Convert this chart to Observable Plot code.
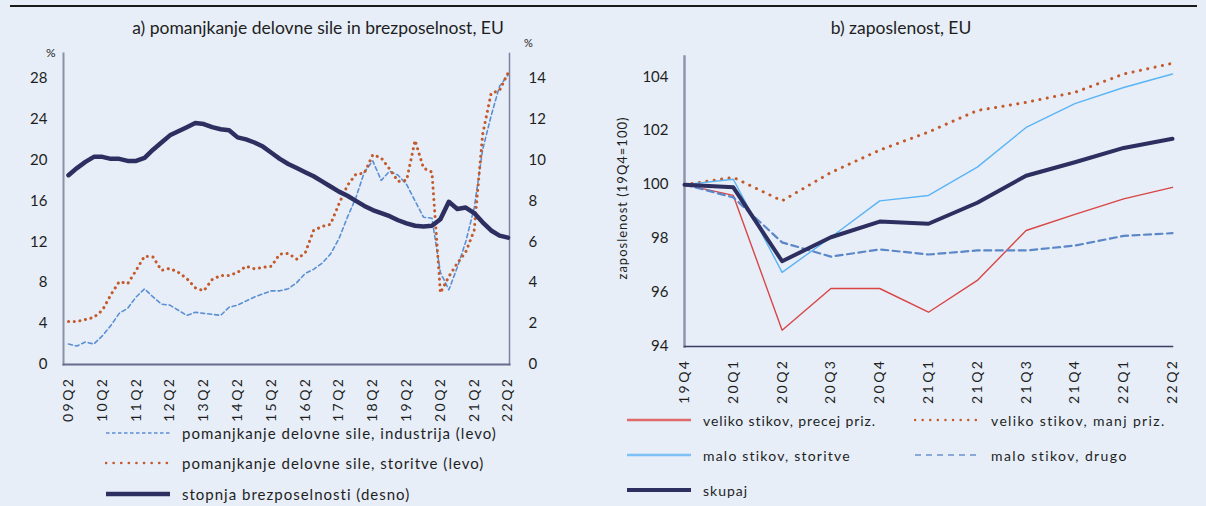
<!DOCTYPE html>
<html><head><meta charset="utf-8">
<script src="https://cdn.jsdelivr.net/npm/d3@7"></script>
<script src="https://cdn.jsdelivr.net/npm/@observablehq/plot@0.6"></script>
<style>
html,body{margin:0;padding:0;background:#e7eef8;}
#root{position:relative;width:1206px;height:506px;background:#e7eef8;font-family:Lato,"Open Sans",sans-serif;color:#1e1e1e;overflow:hidden;}
.abs{position:absolute;white-space:nowrap;}
.leg{display:flex;align-items:center;height:20px;font-size:15px;letter-spacing:1px;}
.leg svg{margin-right:11px;}
</style></head><body><div id="root"></div><script>
// ---------- panel a data ----------
const quartersA = ["09Q2","09Q3","09Q4","10Q1","10Q2","10Q3","10Q4","11Q1","11Q2","11Q3","11Q4","12Q1","12Q2","12Q3","12Q4","13Q1","13Q2","13Q3","13Q4","14Q1","14Q2","14Q3","14Q4","15Q1","15Q2","15Q3","15Q4","16Q1","16Q2","16Q3","16Q4","17Q1","17Q2","17Q3","17Q4","18Q1","18Q2","18Q3","18Q4","19Q1","19Q2","19Q3","19Q4","20Q1","20Q2","20Q3","20Q4","21Q1","21Q2","21Q3","21Q4","22Q1","22Q2"];
const ticksA = ["09Q2","10Q2","11Q2","12Q2","13Q2","14Q2","15Q2","16Q2","17Q2","18Q2","19Q2","20Q2","21Q2","22Q2"];
const industrija = [2.0,1.8,2.2,2.0,2.8,3.8,5.0,5.5,6.6,7.4, 6.6,5.9,5.8,5.3,4.8,5.1,5.0,4.9,4.8,5.6, 5.8,6.2,6.6,6.9,7.2,7.2,7.4,8.0,8.9,9.3, 9.9,10.8,12.3,14.4,16.3,18.8,19.9,18.0,18.9,18.5, 17.6,16.0,14.4,14.3,9.0,7.3,9.5,12.0,15.3,21.0, 24.3,27.2,28.3];
const storitve = [4.2,4.2,4.4,4.6,5.3,6.8,8.1,7.9,9.2,10.6, 10.5,9.2,9.4,9.0,8.4,7.5,7.2,8.3,8.7,8.7, 9.0,9.6,9.35,9.5,9.6,10.8,10.85,10.3,10.9,13.1, 13.5,13.7,15.7,17.5,18.6,18.7,20.5,20.2,19.1,17.9, 18.0,21.9,19.2,18.8,7.0,8.6,9.9,11.0,13.1,22.5, 26.5,26.8,28.5];
const brezposelnost = [9.25,9.6,9.9,10.15,10.15,10.05,10.05,9.95,9.95,10.1, 10.5,10.85,11.2,11.4,11.6,11.8,11.75,11.6,11.5,11.45, 11.1,11.0,10.85,10.65,10.35,10.05,9.8,9.6,9.4,9.2, 8.95,8.7,8.45,8.25,8.0,7.75,7.55,7.4,7.25,7.05, 6.9,6.78,6.75,6.78,7.1,7.95,7.6,7.67,7.4,6.95, 6.55,6.3,6.2];
const ticksLeftA = [0,4,8,12,16,20,24,28];
const ticksRightA = [0,2,4,6,8,10,12,14];
const leftPerRight = 2; // left axis units per right axis unit (28 / 14)

// ---------- panel b data ----------
const quartersB = ["19Q4","20Q1","20Q2","20Q3","20Q4","21Q1","21Q2","21Q3","21Q4","22Q1","22Q2"];
const velikoPrecej = [100,99.6,94.6,96.15,96.15,95.27,96.45,98.3,98.9,99.47,99.9];
const velikoManj   = [100,100.27,99.4,100.45,101.28,101.95,102.75,103.05,103.42,104.1,104.5];
const maloStoritve = [100,100.2,96.75,98.05,99.4,99.6,100.65,102.12,103.0,103.6,104.1];
const maloDrugo    = [100,99.53,97.86,97.33,97.6,97.41,97.56,97.56,97.74,98.1,98.2];
const skupaj       = [100,99.9,97.16,98.05,98.63,98.55,99.33,100.33,100.83,101.36,101.7];
const ticksB = [94,96,98,100,102,104];

const C = {
  ind:"#5b8fd3", sto:"#c4592a", navy:"#2c2f60",
  red:"#d94545", lblue:"#5ab4f5", dash:"#5b87c8"
};
const root = document.getElementById("root");
function addDiv(html, css, cls){const d=document.createElement("div");d.className="abs "+(cls||"");d.innerHTML=html;Object.assign(d.style,css);root.appendChild(d);return d;}

// top rule and titles
addDiv("",{left:"10px",top:"5px",width:"1187px",height:"1.5px",background:"#1a1a1a"});
addDiv("a) pomanjkanje delovne sile in brezposelnost, EU",{left:"318px",top:"17px",transform:"translateX(-50%)",fontSize:"17.5px"});
addDiv("b) zaposlenost, EU",{left:"901px",top:"17px",transform:"translateX(-50%)",fontSize:"17.5px"});
addDiv("%",{left:"46px",top:"45px",fontSize:"12px"});
addDiv("%",{left:"524px",top:"36px",fontSize:"11px"});

// ---------- panel a ----------
const rowsA = quartersA.map((q,i)=>({q, ind:industrija[i], sto:storitve[i], un:brezposelnost[i]}));
const plotA = Plot.plot({
  width:600, height:430,
  marginLeft:63, marginRight:91, marginTop:53, marginBottom:66,
  style:{background:"transparent", fontFamily:"Lato, sans-serif", color:"#1e1e1e", overflow:"visible"},
  x:{type:"point", domain:quartersA, padding:0.385, align:0.77, round:false},
  y:{domain:[0,30.4]},
  marks:[
    Plot.axisY({ticks:ticksLeftA, tickSize:0, tickPadding:16, label:null, fontSize:15}),
    Plot.axisY({anchor:"right", ticks:ticksRightA.map(v=>v*leftPerRight), tickFormat:d=>String(d/leftPerRight), tickSize:0, tickPadding:19, label:null, fontSize:15}),
    Plot.axisX({ticks:ticksA, tickSize:0, tickRotate:-90, tickPadding:12, label:null, fontSize:14}),
    Plot.frame({anchor:"left", stroke:"#8b91aa", strokeWidth:2}),
    Plot.frame({anchor:"right", stroke:"#7d839e", strokeWidth:1.5}),
    Plot.frame({anchor:"bottom", stroke:"#676c8c", strokeWidth:2}),
    Plot.line(rowsA,{x:"q", y:"ind", stroke:C.ind, strokeWidth:1.6, strokeDasharray:"4,3"}),
    Plot.line(rowsA,{x:"q", y:"sto", stroke:C.sto, strokeWidth:3, strokeDasharray:"0.1,5.6", strokeLinecap:"round"}),
    Plot.line(rowsA,{x:"q", y:d=>d.un*leftPerRight, stroke:C.navy, strokeWidth:4.5, strokeLinejoin:"round"})
  ]
});
const boxA = addDiv("",{left:"0px",top:"0px"}); boxA.appendChild(plotA);

// ---------- panel b ----------
const rowsB = quartersB.map((q,i)=>({q, vp:velikoPrecej[i], vm:velikoManj[i], ms:maloStoritve[i], md:maloDrugo[i], sk:skupaj[i]}));
const plotB = Plot.plot({
  width:606, height:400,
  marginLeft:84, marginRight:34, marginTop:56, marginBottom:54,
  style:{background:"transparent", fontFamily:"Lato, sans-serif", color:"#1e1e1e", overflow:"visible"},
  x:{type:"point", domain:quartersB, padding:0, round:false},
  y:{domain:[94,104.75]},
  marks:[
    Plot.axisY({ticks:ticksB, tickSize:0, tickPadding:16, label:null, fontSize:15}),
    Plot.axisX({tickSize:0, tickRotate:-90, tickPadding:12, label:null, fontSize:14}),
    Plot.frame({anchor:"left", stroke:"#8e94ab", strokeWidth:2.5}),
    Plot.frame({anchor:"bottom", stroke:"#3a3e66", strokeWidth:1.5}),
    Plot.line(rowsB,{x:"q", y:"vp", stroke:C.red, strokeWidth:1.4}),
    Plot.line(rowsB,{x:"q", y:"vm", stroke:C.sto, strokeWidth:3, strokeDasharray:"0.1,7.4", strokeLinecap:"round"}),
    Plot.line(rowsB,{x:"q", y:"ms", stroke:C.lblue, strokeWidth:1.4}),
    Plot.line(rowsB,{x:"q", y:"md", stroke:C.dash, strokeWidth:2.2, strokeDasharray:"7,4.5"}),
    Plot.line(rowsB,{x:"q", y:"sk", stroke:C.navy, strokeWidth:4, strokeLinejoin:"round"})
  ]
});
const boxB = addDiv("",{left:"600px",top:"0px"}); boxB.appendChild(plotB);
addDiv("zaposlenost (19Q4=100)",{left:"622px",top:"198px",transform:"translate(-50%,-50%) rotate(-90deg)",fontSize:"13px",letterSpacing:"1px"});

// widen rotated quarter labels like the reference
[plotA, plotB].forEach(p=>p.querySelectorAll('g[aria-label="x-axis tick label"] text').forEach(t=>{t.style.letterSpacing="2.5px";}));

// ---------- legends ----------
function sw(stroke,w,dash,cap){
  return `<svg width="66" height="10"><line x1="1" y1="5" x2="65" y2="5" stroke="${stroke}" stroke-width="${w}" ${dash?`stroke-dasharray="${dash}"`:""} stroke-linecap="${cap||"butt"}"/></svg>`;
}
const legA = [
  {label:"pomanjkanje delovne sile, industrija (levo)", s:sw(C.ind,1.5,"3.5,2.5"), y:433},
  {label:"pomanjkanje delovne sile, storitve (levo)", s:sw(C.sto,2.6,"0.1,7.5","round"), y:463},
  {label:"stopnja brezposelnosti (desno)", s:sw(C.navy,4.5), y:494}
];
legA.forEach(e=>addDiv(e.s+`<span>${e.label}</span>`,{left:"105px",top:(e.y-10)+"px"},"leg"));
const legB = [
  {label:"veliko stikov, precej priz.", s:sw("#e06a6a",2.5), x:626, y:420, ls:"0.9px"},
  {label:"veliko stikov, manj priz.", s:sw(C.sto,2.4,"0.1,7.5","round"), x:914, y:420, ls:"1.35px"},
  {label:"malo stikov, storitve", s:sw("#7cc0f5",2.5), x:626, y:455, ls:"1.2px"},
  {label:"malo stikov, drugo", s:sw("#8aa8d8",2,"6,5"), x:914, y:455, ls:"1.4px"},
  {label:"skupaj", s:sw(C.navy,4), x:626, y:490, ls:"1px"}
];
legB.forEach(e=>addDiv(e.s+`<span>${e.label}</span>`,{left:e.x+"px",top:(e.y-10)+"px",fontSize:"14px",letterSpacing:e.ls},"leg"));
</script></body></html>
